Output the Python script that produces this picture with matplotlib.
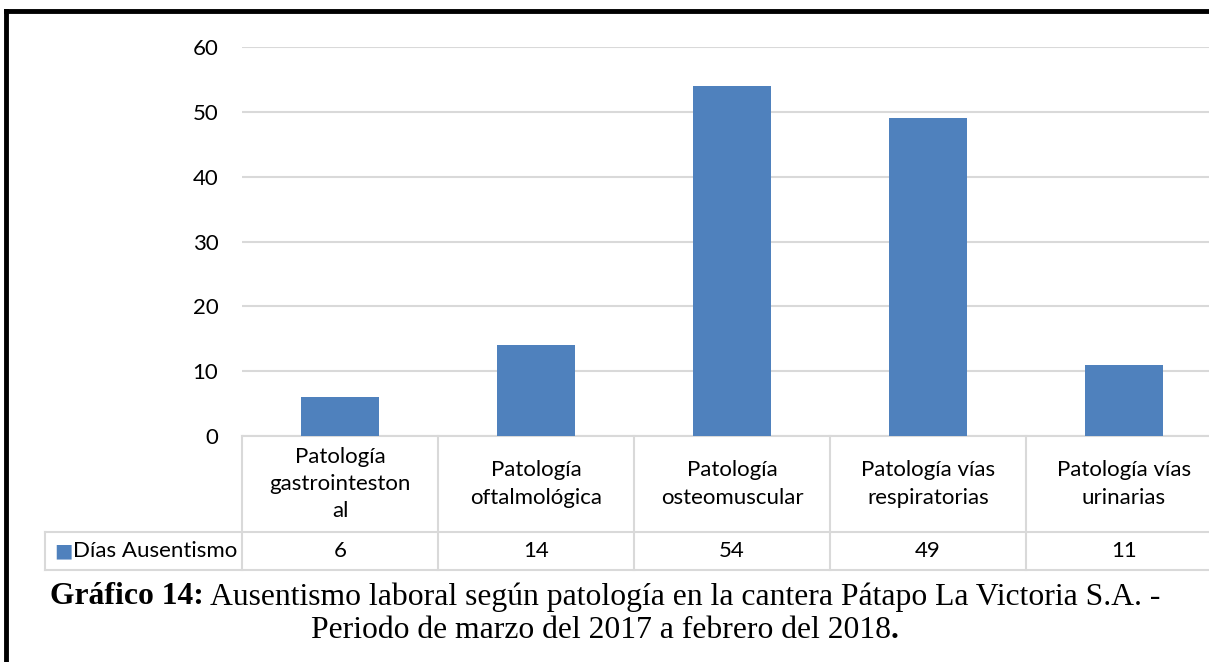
import matplotlib
matplotlib.use('Agg')
import matplotlib.pyplot as plt
from matplotlib.lines import Line2D

categories = ['Patología\ngastrointeston\nal', 'Patología\noftalmológica', 'Patología\nosteomuscular',
              'Patología vías\nrespiratorias', 'Patología vías\nurinarias']
values = [6, 14, 54, 49, 11]
series_name = 'Días Ausentismo'
yticks = [0, 10, 20, 30, 40, 50, 60]
caption_bold = 'Gráfico 14:'
caption_rest = ' Ausentismo laboral según patología en la cantera Pátapo La Victoria S.A. -'
caption_line2 = 'Periodo de marzo del 2017 a febrero del 2018'

W, H = 1209, 662
bar_color = '#4f81bd'
grid_color = '#d9d9d9'
font = 'Lato'
fs = 16

fig = plt.figure(figsize=(W / 100, H / 100), dpi=100)
# the chart area runs a little past the right edge of the picture, as in the reference
cat_w = 196
ax = fig.add_axes([242 / W, (H - 436) / H, cat_w * len(values) / W, (436 - 47) / H])

x = list(range(len(values)))
ax.bar(x, values, width=0.4, color=bar_color, zorder=3)
ax.set_xlim(-0.5, len(values) - 0.5)
ax.set_ylim(0, 60)
ax.set_yticks(yticks)
ax.set_yticklabels([str(t) for t in yticks], fontsize=fs, family=font)
ax.tick_params(axis='y', length=0, pad=17)
ax.set_xticks([])
ax.grid(axis='y', color=grid_color, linewidth=1.5, zorder=0)
for s in ax.spines.values():
    s.set_visible(False)

# data table under the plot
tr = ax.get_xaxis_transform()
ax_h = 436 - 47
r1 = (436 - 532) / ax_h
r2 = (436 - 570) / ax_h
left = -0.5 - (242 - 45) / cat_w
lw = 1.5
for y in [0, r1, r2]:
    x0 = -0.5 if y == 0 else left
    ax.add_line(Line2D([x0, len(values) - 0.5], [y, y], transform=tr, color=grid_color,
                       lw=lw, clip_on=False))
for i in range(len(values) + 1):
    ax.add_line(Line2D([i - 0.5, i - 0.5], [0, r2], transform=tr, color=grid_color,
                       lw=lw, clip_on=False))
ax.add_line(Line2D([left, left], [r1, r2], transform=tr, color=grid_color, lw=lw, clip_on=False))

for i, (c, v) in enumerate(zip(categories, values)):
    ax.text(i, r1 / 2, c, transform=tr, ha='center', va='center', fontsize=fs,
            family=font, linespacing=1.45, clip_on=False)
    ax.text(i, (r1 + r2) / 2, str(v), transform=tr, ha='center', va='center',
            fontsize=fs, family=font, clip_on=False)

ax.text(left + 9 / cat_w, (r1 + r2) / 2, '\u25a0', transform=tr, ha='left', va='center',
        fontsize=14, color=bar_color, family='DejaVu Sans')
ax.text(left + 28 / cat_w, (r1 + r2) / 2, series_name, transform=tr, ha='left', va='center',
        fontsize=fs, family=font)

# frame
fig.add_artist(Line2D([6 / W, 6 / W], [0, (H - 11) / H], color='black', lw=3.5))
fig.add_artist(Line2D([6 / W, 1], [(H - 11) / H, (H - 11) / H], color='black', lw=3.5))

# caption
serif = 'Liberation Serif'
fig.canvas.draw()
rend = fig.canvas.get_renderer()
cs = 22.8
t1 = fig.text(0, (H - 597) / H, caption_bold, fontsize=cs, family=serif, weight='bold', va='center')
t2 = fig.text(0, (H - 597) / H, caption_rest, fontsize=cs, family=serif, va='center')
w1 = t1.get_window_extent(rend).width
w2 = t2.get_window_extent(rend).width
x0 = (605 - (w1 + w2) / 2) / W
t1.set_x(x0)
t2.set_x(x0 + w1 / W)
t3 = fig.text(0, (H - 631) / H, caption_line2, fontsize=cs, family=serif, va='center')
t4 = fig.text(0, (H - 631) / H, '.', fontsize=cs, family=serif, weight='bold', va='center')
w3 = t3.get_window_extent(rend).width
w4 = t4.get_window_extent(rend).width
x0 = (605 - (w3 + w4) / 2) / W
t3.set_x(x0)
t4.set_x(x0 + w3 / W)

fig.savefig('out.png', dpi=100)
